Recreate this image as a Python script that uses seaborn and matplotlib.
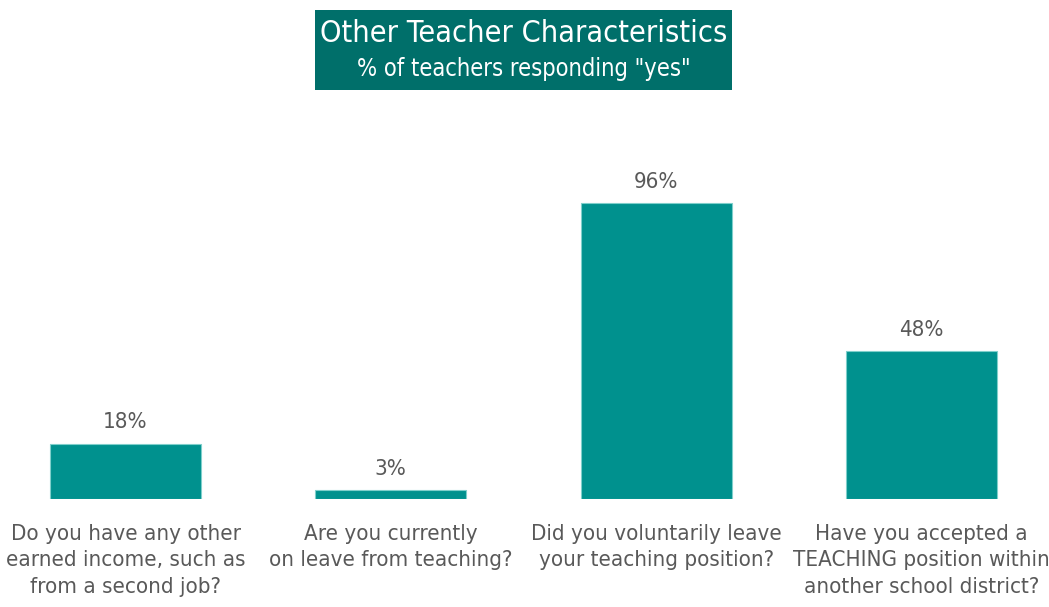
import matplotlib
matplotlib.use("Agg")
import matplotlib.pyplot as plt
import seaborn as sns
import pandas as pd
from matplotlib.patches import Rectangle

# Chart data
questions = [
    "Do you have any other\nearned income, such as\nfrom a second job?",
    "Are you currently\non leave from teaching?",
    "Did you voluntarily leave\nyour teaching position?",
    "Have you accepted a\nTEACHING position within\nanother school district?",
]
pct_yes = [18, 3, 96, 48]

title = "Other Teacher Characteristics"
subtitle = '% of teachers responding "yes"'

bar_color = "#00918E"
box_color = "#006F6A"
text_color = "#595959"

df = pd.DataFrame({"question": questions, "pct": pct_yes})

sns.set_style("white")
plt.rcParams["font.family"] = ["DejaVu Sans"]
plt.rcParams["font.stretch"] = "condensed"

fig = plt.figure(figsize=(10.49, 6.07), dpi=100)
ax = fig.add_axes([0, (607 - 499) / 607, 1, 0.62])

sns.barplot(data=df, x="question", y="pct", color=bar_color, width=0.57,
            saturation=1, edgecolor="#7FCFCB", linewidth=0.8, ax=ax)

ax.set_xlim(-125.5 / 265.33, 3 + (1049 - 921.5) / 265.33)
ax.set_ylim(0, 0.62 * 607 / 3.08)

ax.bar_label(ax.containers[0], fmt="%d%%", padding=8, fontsize=16,
             color=text_color, fontstretch="condensed")

ax.set_xlabel("")
ax.set_ylabel("")
ax.set_yticks([])
ax.tick_params(axis="x", length=0, pad=18, labelsize=16, labelcolor=text_color)
for lbl in ax.get_xticklabels():
    lbl.set_linespacing(1.4)
    lbl.set_fontstretch("condensed")
sns.despine(ax=ax, left=True, bottom=True, top=True, right=True)

# title box
fig.patches.append(Rectangle((315 / 1049, 1 - 90 / 607), 417 / 1049, 80 / 607,
                             transform=fig.transFigure, facecolor=box_color,
                             edgecolor="none", zorder=0))
fig.text(523.5 / 1049, 1 - 33 / 607, title, ha="center", va="center",
         color="white", fontsize=22, fontstretch="condensed")
fig.text(523.5 / 1049, 1 - 69 / 607, subtitle, ha="center", va="center",
         color="white", fontsize=17, fontstretch="condensed")

fig.savefig("out.png", dpi=100, facecolor="white")
